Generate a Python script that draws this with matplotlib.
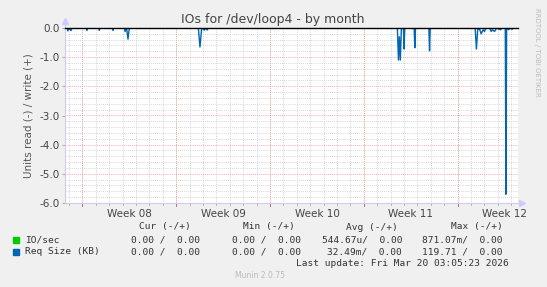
import matplotlib.pyplot as plt
import numpy as np
from matplotlib.ticker import MultipleLocator

# time in days from left edge of graph, value = read Req Size (KB), plotted negative
spike_days = [0.15, 0.22, 0.30, 0.45, 0.52, 1.60, 1.64, 1.68, 2.50, 2.55, 2.62,
              3.54, 3.58, 3.62, 4.44, 4.48, 4.60, 4.70, 4.80,
              9.95, 10.07, 10.20, 10.40, 10.50, 10.60, 10.70,
              24.80, 24.88, 24.95, 25.02, 25.10, 25.25, 25.30, 25.35,
              26.05, 26.10, 26.15, 27.15, 27.20, 27.25,
              30.60, 30.70, 30.80, 30.95, 31.05, 31.20, 31.30, 31.40,
              31.70, 31.80, 31.90, 32.05, 32.20, 32.50, 32.60,
              32.85, 32.90, 32.95, 33.10, 33.20, 33.35, 33.50]
spike_vals = [0.0, 0.10, 0.0, 0.09, 0.0, 0.0, 0.08, 0.0, 0.0, 0.08, 0.0,
              0.0, 0.08, 0.0, 0.0, 0.12, 0.02, 0.38, 0.0,
              0.0, 0.65, 0.0, 0.07, 0.0, 0.07, 0.0,
              0.0, 1.10, 0.30, 1.10, 0.0, 0.0, 0.72, 0.0,
              0.0, 0.68, 0.0, 0.0, 0.78, 0.0,
              0.0, 0.72, 0.0, 0.06, 0.20, 0.06, 0.12, 0.0,
              0.0, 0.12, 0.06, 0.12, 0.0, 0.06, 0.0,
              0.0, 5.70, 0.0, 0.06, 0.0, 0.04, 0.0]
x_end = 33.8
week_edges = [1.3, 8.3, 15.3, 22.3, 29.3]
week_labels = ["Week 08", "Week 09", "Week 10", "Week 11", "Week 12"]

legend_names = ["IO/sec", "Req Size (KB)"]
legend_colors = ["#00CC00", "#0066B3"]
cur = ["0.00 /  0.00", "0.00 /  0.00"]
mins = ["0.00 /  0.00", "0.00 /  0.00"]
avgs = ["544.67u/  0.00", "32.49m/  0.00"]
maxs = ["871.07m/  0.00", "119.71 /  0.00"]

W, H = 547, 287
fig = plt.figure(figsize=(W / 100, H / 100), dpi=100, facecolor="#F0F0F0")
ax = fig.add_axes([65 / W, 1 - 203 / H, 453 / W, 175 / H])
ax.set_facecolor("white")

# grid
ax.set_xlim(0, x_end)
ax.set_ylim(-6.0, 0.0)
day_lines = [d for d in np.arange(week_edges[0] - 1, x_end, 1.0) if d > 0]
for d in day_lines:
    ax.axvline(d, color="#c8c8c8", lw=0.6, ls=(0, (1, 1.5)), zorder=0)
    ax.plot([d, d], [-6, -6.06], color="#aaaaaa", lw=0.6, clip_on=False)
for d in week_edges:
    ax.axvline(d, color="#f09090", lw=0.6, ls=(0, (1, 1.5)), zorder=0)
    ax.plot([d, d], [-6, -6.1], color="#e06060", lw=0.7, clip_on=False)
for v in np.arange(-6.0, 0.01, 0.2):
    major = abs(v - round(v)) < 1e-6
    ax.axhline(v, color="#f09090" if major else "#c8c8c8", lw=0.6,
               ls=(0, (1, 1.5)), zorder=0)

ax.plot(spike_days, -np.array(spike_vals), color=legend_colors[1], lw=1.0, zorder=3)
ax.plot([0, x_end], [0, 0], color=legend_colors[0], lw=0.6, zorder=3)
ax.axhline(0, color="black", lw=1.0, zorder=4, clip_on=False)

for s in ax.spines.values():
    s.set_visible(False)
ax.plot([0, x_end + 0.3], [-6, -6], color="#ccccee", lw=0.8, clip_on=False)
ax.plot([0, 0], [-6, 0.25], color="#ccccee", lw=0.8, clip_on=False)
ax.plot(x_end + 0.3, -6, marker=">", color="#ccccff", ms=5, clip_on=False)
ax.plot(0, 0.25, marker="^", color="#ccccff", ms=5, clip_on=False)

ax.set_xticks([e + 3.5 for e in week_edges])
ax.set_xticklabels(week_labels, fontsize=7.5, color="#444444")
ax.tick_params(axis="x", length=0, pad=4)
ax.yaxis.set_major_locator(MultipleLocator(1.0))
ax.set_yticklabels(["%.1f" % v for v in ax.get_yticks()], fontsize=7.5, color="#444444")
ax.tick_params(axis="y", length=2, color="#f09090", pad=2)

ax.set_ylabel("Units read (-) / write (+)", fontsize=7.5, color="#555555", labelpad=4)
fig.text(273 / W, 1 - 19 / H, "IOs for /dev/loop4 - by month", ha="center", va="center",
         fontsize=9, color="#444444")
fig.text(537 / W, 1 - 52 / H, "RRDTOOL / TOBI OETIKER", rotation=270, ha="center",
         va="center", fontsize=5, color="#bbbbbb")

mono = dict(family="DejaVu Sans Mono", fontsize=6.8, color="#333333", va="center")
y0 = 1 - 227 / H
fig.text(191 / W, y0, "Cur (-/+)", ha="right", **mono)
fig.text(295 / W, y0, "Min (-/+)", ha="right", **mono)
fig.text(398 / W, y0, "Avg (-/+)", ha="right", **mono)
fig.text(503 / W, y0, "Max (-/+)", ha="right", **mono)
for i, name in enumerate(legend_names):
    yy = 1 - (240 + 12 * i) / H
    fig.patches.append(plt.Rectangle((13 / W, yy - 3 / H), 6 / W, 6 / H,
                                     transform=fig.transFigure, color=legend_colors[i]))
    fig.text(25 / W, yy, name, ha="left", **mono)
    fig.text(200 / W, yy, cur[i], ha="right", **mono)
    fig.text(301 / W, yy, mins[i], ha="right", **mono)
    fig.text(402 / W, yy, avgs[i], ha="right", **mono)
    fig.text(503 / W, yy, maxs[i], ha="right", **mono)
fig.text(509 / W, 1 - 263 / H, "Last update: Fri Mar 20 03:05:23 2026", ha="right", **mono)
fig.text(260 / W, 1 - 276 / H, "Munin 2.0.75", ha="center", va="center",
         fontsize=5.5, color="#bbbbbb")

fig.savefig("out.png", dpi=100, facecolor=fig.get_facecolor())
